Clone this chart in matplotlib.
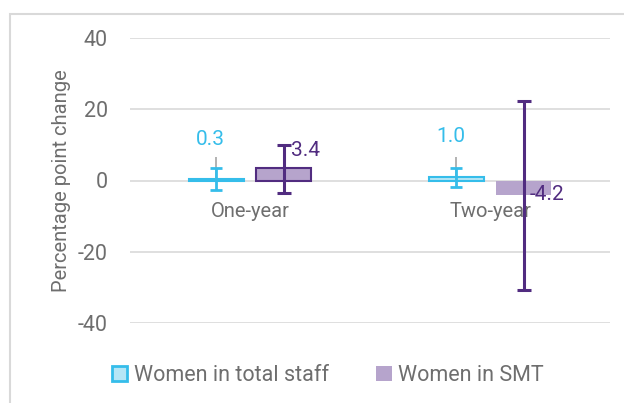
import matplotlib
matplotlib.use('Agg')
import matplotlib.pyplot as plt
from matplotlib.patches import Rectangle, Patch
import numpy as np

plt.rcParams['font.family'] = ['Roboto', 'DejaVu Sans']
plt.rcParams['axes.unicode_minus'] = False

categories = ['One-year', 'Two-year']
total_staff = [0.3, 1.0]
smt = [3.4, -4.2]
total_err_low = [-2.8, -1.7]
total_err_high = [3.4, 3.6]
smt_err_low = [-3.4, -30.6]
smt_err_high = [10.1, 22.2]
gray_high = [6.5, 6.5]
series_names = ['Women in total staff', 'Women in SMT']
yticks = [-40, -20, 0, 20, 40]

BLUE = '#35bdea'
BLUE_FILL = '#b5e6f6'
PURPLE = '#b6a4cc'
DARK_PURPLE = '#512c80'
GRID = '#d9d9d9'
TEXT = '#6e6e6e'

fig = plt.figure(figsize=(6.24, 4.03), dpi=100)
fig.patches.append(Rectangle((10 / 624, -0.1), 1.2, 1.1 - 14 / 403,
                             transform=fig.transFigure, fill=False,
                             edgecolor=GRID, linewidth=1.5))
ax = fig.add_axes([130 / 624, 1 - 323 / 403, 480 / 624, 285 / 403])

x = np.arange(len(categories))
off = 0.14
w = 0.23

ax.bar(x - off, total_staff, w, color=BLUE_FILL, edgecolor=BLUE, linewidth=1.5, zorder=3)
bars = ax.bar(x + off, smt, w, color=PURPLE, linewidth=0, zorder=3)
bars[0].set_edgecolor(DARK_PURPLE)
bars[0].set_linewidth(1.5)

# grey thin line behind the blue error bars
ax.vlines(x - off, 0, gray_high, color='#a6a6a6', linewidth=1.2, zorder=4)

tot = np.array(total_staff)
s = np.array(smt)
ax.errorbar(x - off, tot, yerr=[tot - np.array(total_err_low), np.array(total_err_high) - tot],
            fmt='none', ecolor=BLUE, elinewidth=2, capsize=4.5, capthick=2, zorder=5)
ax.errorbar(x + off, s, yerr=[s - np.array(smt_err_low), np.array(smt_err_high) - s],
            fmt='none', ecolor=DARK_PURPLE, elinewidth=2.2, capsize=5, capthick=2.2, zorder=5)

# value labels
for i, v in enumerate(total_staff):
    ax.annotate('%.1f' % v, (x[i] - off, v), xytext=(-4, 29), textcoords='offset points',
                ha='center', va='center', color=BLUE, fontsize=15)
smt_offsets = [(5, 13), (4, 1)]
for i, v in enumerate(smt):
    ax.annotate('%.1f' % v, (x[i] + off, v), xytext=smt_offsets[i], textcoords='offset points',
                ha='left', va='center', color=DARK_PURPLE, fontsize=15)

# category labels at the zero line
for i, c in enumerate(categories):
    ax.annotate(c, (x[i], 0), xytext=(0, -22), textcoords='offset points',
                ha='center', va='center', color=TEXT, fontsize=14.5, zorder=2)

ax.set_xlim(-0.5, 1.5)
ax.set_ylim(-40, 40)
ax.set_yticks(yticks)
ax.set_xticks([])
ax.yaxis.grid(True, color=GRID, linewidth=1.2, zorder=0)
ax.set_axisbelow(True)
for sp in ax.spines.values():
    sp.set_visible(False)
ax.tick_params(axis='y', length=0, pad=16, labelsize=15.5, labelcolor=TEXT)
ax.set_ylabel('Percentage point change', color=TEXT, fontsize=14.5, labelpad=5)

handles = [Patch(facecolor=BLUE_FILL, edgecolor=BLUE, linewidth=2),
           Patch(facecolor=PURPLE, edgecolor='none')]
leg = ax.legend(handles, series_names, loc='upper center', bbox_to_anchor=(0.4125, -0.08),
                ncol=2, frameon=False, fontsize=15.5, labelcolor=TEXT, handlelength=0.7,
                handleheight=0.7, handletextpad=0.3, columnspacing=2.2)

fig.savefig('out.png', dpi=100)
